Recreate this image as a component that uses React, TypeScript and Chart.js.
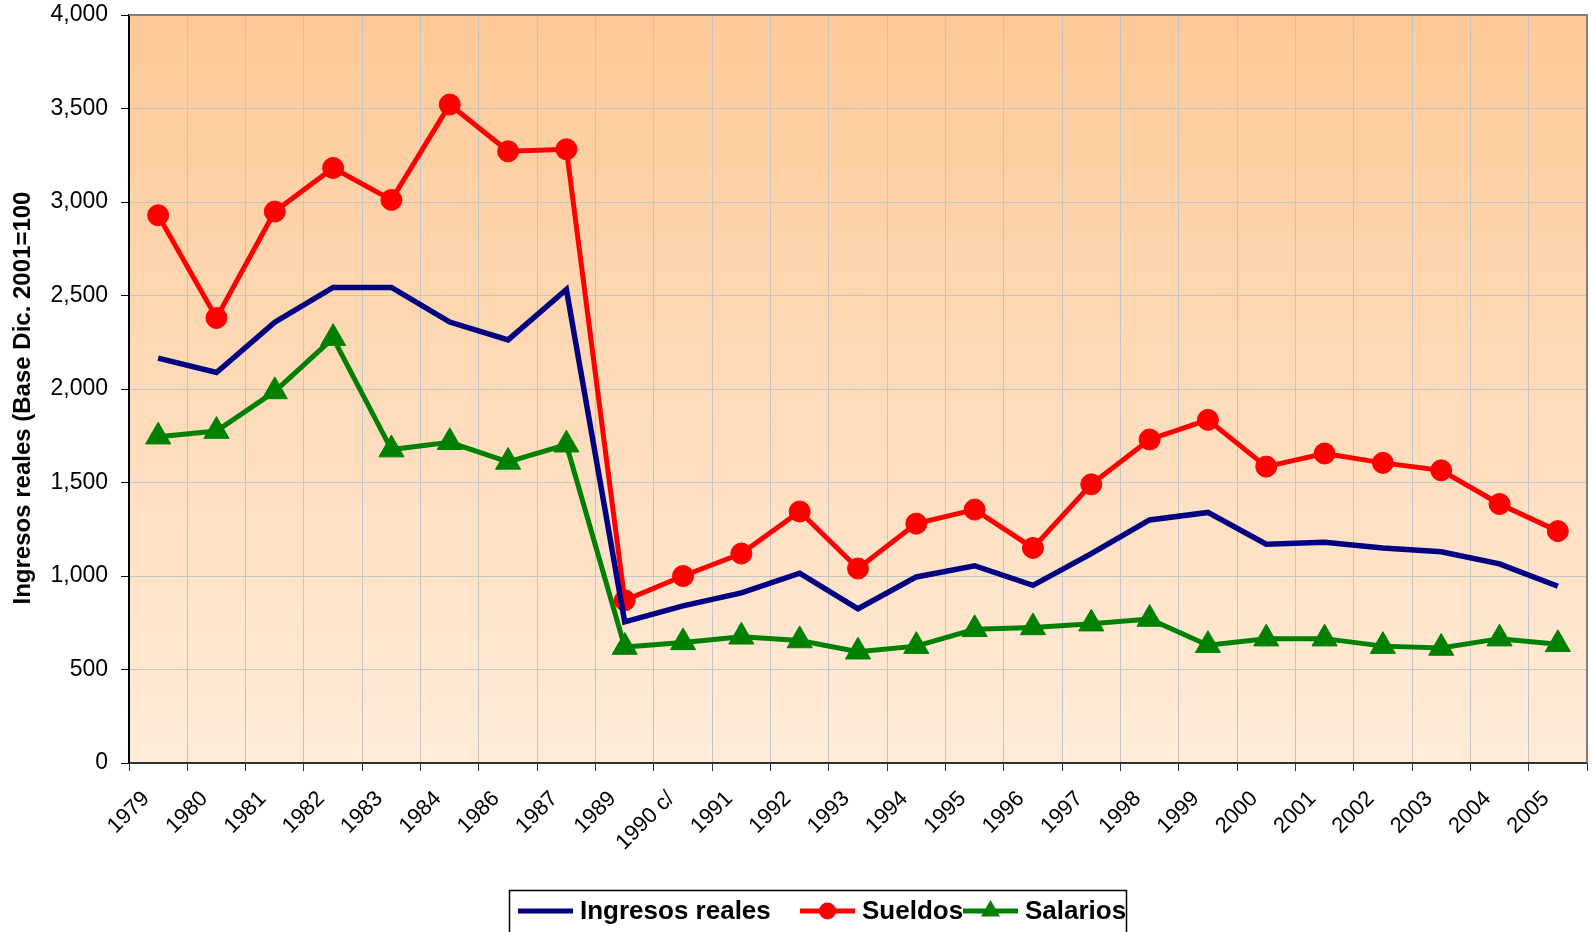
import React, { useEffect, useRef } from "react";
import { Chart, registerables } from "chart.js";

Chart.register(...registerables);

const categories = [
  "1979", "1980", "1981", "1982", "1983", "1984", "1986", "1987", "1989", "1990 c/",
  "1991", "1992", "1993", "1994", "1995", "1996", "1997", "1998", "1999", "2000",
  "2001", "2002", "2003", "2004", "2005",
];
const ingresosReales = [
  2165, 2088, 2357, 2543, 2543, 2358, 2263, 2532, 755, 840,
  910, 1015, 825, 995, 1055, 950, 1120, 1300, 1340, 1170,
  1180, 1150, 1130, 1065, 945,
];
const sueldos = [
  2929, 2380, 2949, 3182, 3011, 3521, 3271, 3282, 870, 1000,
  1120, 1345, 1040, 1280, 1355, 1150, 1490, 1730, 1835, 1585,
  1655, 1605, 1565, 1385, 1240,
];
const salarios = [
  1745, 1775, 1987, 2272, 1676, 1715, 1610, 1702, 620, 645,
  675, 655, 595, 625, 715, 725, 745, 770, 630, 665,
  665, 625, 615, 665, 635,
];
const seriesLabels = ["Ingresos reales", "Sueldos", "Salarios"];
const yAxisTitle = "Ingresos reales (Base Dic. 2001=100";
const yMin = 0;
const yMax = 4000;
const yStep = 500;

const legendSampleX = [518, 800, 963];

const bgPlugin = {
  id: "plotBg",
  beforeDraw(chart: any) {
    const { ctx, chartArea } = chart;
    if (!chartArea) return;
    const g = ctx.createLinearGradient(0, chartArea.top, 0, chartArea.bottom);
    g.addColorStop(0, "rgb(253,201,151)");
    g.addColorStop(1, "rgb(255,236,218)");
    ctx.save();
    ctx.fillStyle = g;
    ctx.fillRect(chartArea.left, chartArea.top, chartArea.right - chartArea.left, chartArea.bottom - chartArea.top);
    ctx.restore();
  },
  afterDraw(chart: any) {
    const { ctx, chartArea } = chart;
    ctx.save();
    // top and right plot border
    ctx.strokeStyle = "#808080";
    ctx.lineWidth = 2;
    ctx.beginPath();
    ctx.moveTo(chartArea.left, chartArea.top);
    ctx.lineTo(chartArea.right, chartArea.top);
    ctx.lineTo(chartArea.right, chartArea.bottom);
    ctx.stroke();

    // y axis title
    ctx.save();
    ctx.translate(23, 398);
    ctx.rotate(-Math.PI / 2);
    ctx.fillStyle = "#000";
    ctx.font = "bold 24px 'Liberation Sans', Arial, sans-serif";
    ctx.textAlign = "center";
    ctx.textBaseline = "middle";
    ctx.fillText(yAxisTitle, 0, 0);
    ctx.restore();

    // legend
    ctx.strokeStyle = "#000";
    ctx.lineWidth = 1.5;
    ctx.strokeRect(509.5, 890.5, 617, 60);
    const y = 911;
    chart.data.datasets.forEach((ds: any, i: number) => {
      const x0 = legendSampleX[i];
      ctx.strokeStyle = ds.borderColor;
      ctx.lineWidth = 5;
      ctx.beginPath();
      ctx.moveTo(x0, y);
      ctx.lineTo(x0 + 55, y);
      ctx.stroke();
      const cx = x0 + 27.5;
      ctx.fillStyle = ds.borderColor;
      if (ds.pointStyle === "circle" && ds.pointRadius > 0) {
        ctx.beginPath();
        ctx.arc(cx, y, 8.5, 0, Math.PI * 2);
        ctx.fill();
      } else if (ds.pointStyle === "triangle" && ds.pointRadius > 0) {
        const r = 11;
        ctx.beginPath();
        ctx.moveTo(cx, y - r);
        ctx.lineTo(cx + r * 0.866, y + r / 2);
        ctx.lineTo(cx - r * 0.866, y + r / 2);
        ctx.closePath();
        ctx.fill();
      }
      ctx.fillStyle = "#000";
      ctx.font = "bold 26px 'Liberation Sans', Arial, sans-serif";
      ctx.textBaseline = "middle";
      ctx.textAlign = "left";
      ctx.fillText(ds.label, x0 + 62, y + 1);
    });
    ctx.restore();
  },
};

export default function App() {
  const ref = useRef<HTMLCanvasElement | null>(null);

  useEffect(() => {
    document.body.style.margin = "0";
    const canvas = ref.current;
    if (!canvas) return;
    const chart = new Chart(canvas, {
      type: "line",
      data: {
        labels: categories,
        datasets: [
          {
            label: seriesLabels[0],
            data: ingresosReales,
            borderColor: "#000080",
            backgroundColor: "#000080",
            borderWidth: 5.5,
            pointRadius: 0,
            pointHoverRadius: 0,
            pointStyle: "line",
            tension: 0,
          },
          {
            label: seriesLabels[1],
            data: sueldos,
            borderColor: "#FF0000",
            backgroundColor: "#FF0000",
            borderWidth: 5,
            pointStyle: "circle",
            pointRadius: 10.5,
            pointBorderWidth: 1,
            pointBackgroundColor: "#FF0000",
            pointBorderColor: "#FF0000",
            tension: 0,
          },
          {
            label: seriesLabels[2],
            data: salarios,
            borderColor: "#008000",
            backgroundColor: "#008000",
            borderWidth: 5,
            pointStyle: "triangle",
            pointRadius: 14.5,
            pointBorderWidth: 1,
            pointBackgroundColor: "#008000",
            pointBorderColor: "#008000",
            tension: 0,
          },
        ],
      },
      options: {
        responsive: false,
        animation: false,
        devicePixelRatio: 1,
        layout: { autoPadding: false, padding: { top: 15, right: 5, left: 0, bottom: 0 } },
        plugins: {
          legend: { display: false },
          tooltip: { enabled: false },
        },
        scales: {
          x: {
            type: "category",
            offset: true,
            grid: {
              offset: true,
              color: "#c4c4c4",
              lineWidth: 1,
              drawTicks: true,
              tickLength: 8,
              tickColor: "#333",
            },
            border: { color: "#333", width: 2 },
            ticks: {
              autoSkip: false,
              maxRotation: 45,
              minRotation: 45,
              color: "#000",
              padding: 15,
              labelOffset: -12,
              font: { family: "'Liberation Sans', Arial, sans-serif", size: 22 },
            },
            afterFit(scale: any) {
              scale.height = 932 - 763;
              scale.paddingLeft = 0;
              scale.paddingRight = 0;
            },
          },
          y: {
            min: yMin,
            max: yMax,
            grid: {
              color: "#c4c4c4",
              lineWidth: 1,
              drawTicks: true,
              tickLength: 8,
              tickColor: "#000",
            },
            border: { color: "#000", width: 2 },
            ticks: {
              stepSize: yStep,
              color: "#000",
              padding: 13,
              font: { family: "'Liberation Sans', Arial, sans-serif", size: 23 },
              callback: (v: any) => Number(v).toLocaleString("en-US"),
            },
            title: { display: false },
            afterFit(scale: any) {
              scale.width = 129;
              scale.paddingTop = 0;
              scale.paddingBottom = 0;
            },
          },
        },
      },
      plugins: [bgPlugin],
    } as any);
    return () => chart.destroy();
  }, []);

  return (
    <div style={{ position: "fixed", left: 0, top: 0, width: 1592, height: 932, background: "#fff" }}>
      <canvas ref={ref} width={1592} height={932} style={{ display: "block", width: 1592, height: 932 }} />
    </div>
  );
}
